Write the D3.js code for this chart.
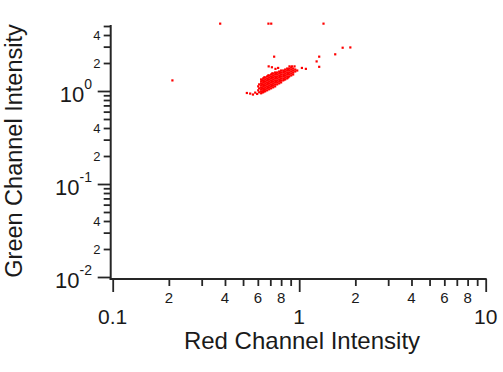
<!DOCTYPE html>
<html>
<head>
<meta charset="utf-8">
<script src="https://cdn.jsdelivr.net/npm/d3@7"></script>
<style>
  body { margin: 0; background: #fff; }
  text { font-family: "Liberation Sans", Arial, sans-serif; fill: #1a1a1a; }
</style>
</head>
<body>
<script>
// Tick values and labels
const xMajorTicks = [0.1, 1, 10];
const xMajorLabels = ['0.1', '1', '10'];
const xMinorTicks = [0.2, 0.3, 0.4, 0.5, 0.6, 0.7, 0.8, 0.9, 2, 3, 4, 5, 6, 7, 8, 9];
const xMinorLabels = ['2', '', '4', '', '6', '', '8', '', '2', '', '4', '', '6', '', '8', ''];
const yMajorTicks = [0.01, 0.1, 1];
const yMajorExponents = ['-2', '-1', '0'];
const yMinorTicks = [0.02, 0.03, 0.04, 0.05, 0.06, 0.07, 0.08, 0.09,
  0.2, 0.3, 0.4, 0.5, 0.6, 0.7, 0.8, 0.9, 2, 3, 4, 5];
const yMinorLabels = ['2', '', '4', '', '', '', '', '', '2', '', '4', '', '', '', '', '', '2', '', '4', ''];

// Red / green intensity pairs: main cluster
const clusterPoints = [
  [0.603, 1.122], [0.603, 1.017],
  [0.610, 1.178], [0.610, 1.068], [0.610, 0.969],
  [0.625, 1.332], [0.625, 1.268], [0.625, 1.208], [0.625, 1.150], [0.625, 1.095], [0.625, 1.043], [0.625, 0.993], [0.625, 0.945],
  [0.634, 1.300], [0.634, 1.178], [0.634, 1.068], [0.634, 0.969],
  [0.641, 1.365], [0.641, 1.300], [0.641, 1.238], [0.641, 1.178], [0.641, 1.122], [0.641, 1.068], [0.641, 1.017], [0.641, 0.969],
  [0.649, 1.399], [0.649, 1.268], [0.649, 1.150], [0.649, 1.043], [0.649, 0.993],
  [0.657, 1.399], [0.657, 1.332], [0.657, 1.268], [0.657, 1.208], [0.657, 1.150], [0.657, 1.095], [0.657, 1.043], [0.657, 0.993],
  [0.673, 1.434], [0.673, 1.365], [0.673, 1.300], [0.673, 1.238], [0.673, 1.178], [0.673, 1.122], [0.673, 1.068], [0.673, 1.017],
  [0.682, 1.469], [0.682, 1.332], [0.682, 1.208], [0.682, 1.095],
  [0.690, 1.469], [0.690, 1.399], [0.690, 1.332], [0.690, 1.268], [0.690, 1.208], [0.690, 1.150], [0.690, 1.095], [0.690, 1.043],
  [0.707, 1.506], [0.707, 1.434], [0.707, 1.365], [0.707, 1.300], [0.707, 1.238], [0.707, 1.178], [0.707, 1.122], [0.707, 1.068],
  [0.716, 1.543], [0.716, 1.399], [0.716, 1.268], [0.716, 1.150],
  [0.725, 1.543], [0.725, 1.469], [0.725, 1.399], [0.725, 1.332], [0.725, 1.268], [0.725, 1.208], [0.725, 1.150], [0.725, 1.095],
  [0.743, 1.582], [0.743, 1.506], [0.743, 1.434], [0.743, 1.365], [0.743, 1.300], [0.743, 1.238], [0.743, 1.178], [0.743, 1.122],
  [0.752, 1.543], [0.752, 1.399], [0.752, 1.268],
  [0.762, 1.582], [0.762, 1.506], [0.762, 1.434], [0.762, 1.365], [0.762, 1.300], [0.762, 1.238], [0.762, 1.178],
  [0.781, 1.621], [0.781, 1.543], [0.781, 1.469], [0.781, 1.399], [0.781, 1.332], [0.781, 1.268], [0.781, 1.208],
  [0.790, 1.582], [0.790, 1.434], [0.790, 1.300],
  [0.800, 1.661], [0.800, 1.582], [0.800, 1.506], [0.800, 1.434], [0.800, 1.365], [0.800, 1.300], [0.800, 1.238],
  [0.821, 1.661], [0.821, 1.582], [0.821, 1.506], [0.821, 1.434], [0.821, 1.365], [0.821, 1.300],
  [0.831, 1.621], [0.831, 1.469], [0.831, 1.332],
  [0.841, 1.702], [0.841, 1.621], [0.841, 1.543], [0.841, 1.469], [0.841, 1.399], [0.841, 1.332],
  [0.862, 1.744], [0.862, 1.661], [0.862, 1.582], [0.862, 1.506], [0.862, 1.434], [0.862, 1.365],
  [0.873, 1.702], [0.873, 1.543], [0.873, 1.399],
  [0.884, 1.744], [0.884, 1.661], [0.884, 1.582], [0.884, 1.506], [0.884, 1.434],
  [0.906, 1.788], [0.906, 1.702], [0.906, 1.621], [0.906, 1.543], [0.906, 1.469],
  [0.928, 1.744], [0.928, 1.661], [0.928, 1.582], [0.928, 1.506],
  [0.952, 1.702], [0.952, 1.621],
  [0.976, 1.661]
];

// Scattered points around and away from the cluster
const outlierPoints = [
  [0.686, 1.84], [0.714, 1.80], [0.746, 1.73], [0.771, 1.77],
  [0.887, 1.84], [0.914, 1.84], [0.944, 1.84], [1.034, 1.77], [1.086, 1.73],
  [0.524, 0.952], [0.546, 0.938], [0.565, 0.916], [0.581, 0.961], [0.595, 0.93],
  [0.377, 5.3], [0.684, 5.3], [0.708, 5.3], [1.35, 5.3],
  [0.209, 1.30], [0.734, 2.34],
  [1.24, 2.08], [1.28, 2.34], [1.28, 1.82], [1.56, 2.48], [1.71, 2.92], [1.88, 2.94]
];

const width = 503;
const height = 372;
const axisColor = '#262626';

const svg = d3.select('body')
  .append('svg')
  .attr('width', width)
  .attr('height', height);

const xScale = d3.scaleLog()
  .domain([0.1, 10])
  .range([112.7, 485.7]);

const yScale = d3.scaleLog()
  .domain([0.01, 5])
  .range([277, 26]);

const xAxisY = 279;
const yAxisX = 110.7;

// Axis lines
svg.append('line')
  .attr('x1', yAxisX - 1).attr('x2', xScale(10) + 1)
  .attr('y1', xAxisY).attr('y2', xAxisY)
  .attr('stroke', axisColor).attr('stroke-width', 2);

svg.append('line')
  .attr('x1', yAxisX).attr('x2', yAxisX)
  .attr('y1', yScale(5) - 1).attr('y2', xAxisY + 1)
  .attr('stroke', axisColor).attr('stroke-width', 2);

// X ticks
const xMajor = svg.append('g')
  .attr('transform', `translate(0,${xAxisY})`)
  .call(d3.axisBottom(xScale).tickValues(xMajorTicks).tickSize(13).tickFormat(''));
const xMinor = svg.append('g')
  .attr('transform', `translate(0,${xAxisY})`)
  .call(d3.axisBottom(xScale).tickValues(xMinorTicks).tickSize(7).tickFormat(''));

// Y ticks
const yMajor = svg.append('g')
  .attr('transform', `translate(${yAxisX},0)`)
  .call(d3.axisLeft(yScale).tickValues(yMajorTicks).tickSize(13).tickFormat(''));
const yMinor = svg.append('g')
  .attr('transform', `translate(${yAxisX},0)`)
  .call(d3.axisLeft(yScale).tickValues(yMinorTicks).tickSize(7).tickFormat(''));

[xMajor, xMinor, yMajor, yMinor].forEach(g => {
  g.select('.domain').remove();
  g.selectAll('.tick line').attr('stroke', axisColor).attr('stroke-width', 1.8);
});

// X tick labels
svg.selectAll('.x-minor-label')
  .data(xMinorTicks)
  .enter()
  .append('text')
  .attr('class', 'x-minor-label')
  .attr('x', d => xScale(d))
  .attr('y', 303)
  .attr('text-anchor', 'middle')
  .style('font-size', '15px')
  .text((d, i) => xMinorLabels[i]);

svg.selectAll('.x-major-label')
  .data(xMajorTicks)
  .enter()
  .append('text')
  .attr('class', 'x-major-label')
  .attr('x', d => xScale(d))
  .attr('y', 324)
  .attr('text-anchor', 'middle')
  .style('font-size', '21px')
  .text((d, i) => xMajorLabels[i]);

// Y tick labels
svg.selectAll('.y-minor-label')
  .data(yMinorTicks)
  .enter()
  .append('text')
  .attr('class', 'y-minor-label')
  .attr('x', 100.5)
  .attr('y', d => yScale(d) + 4.8)
  .attr('text-anchor', 'end')
  .style('font-size', '13px')
  .text((d, i) => yMinorLabels[i]);

const yMajorLabel = svg.selectAll('.y-major-label')
  .data(yMajorTicks)
  .enter()
  .append('text')
  .attr('class', 'y-major-label')
  .attr('x', 92)
  .attr('y', d => yScale(d) + 11)
  .attr('text-anchor', 'end')
  .style('font-size', '22px');

yMajorLabel.append('tspan').text('10');
yMajorLabel.append('tspan')
  .attr('dy', -13)
  .style('font-size', '14px')
  .text((d, i) => yMajorExponents[i]);

// Axis titles
svg.append('text')
  .attr('x', 302)
  .attr('y', 349)
  .attr('text-anchor', 'middle')
  .style('font-size', '24px')
  .text('Red Channel Intensity');

svg.append('text')
  .attr('transform', 'translate(21.5,151) rotate(-90)')
  .attr('text-anchor', 'middle')
  .style('font-size', '23.5px')
  .text('Green Channel Intensity');

// Points
const pointSize = 2.2;
svg.append('g')
  .selectAll('rect')
  .data(clusterPoints.concat(outlierPoints))
  .enter()
  .append('rect')
  .attr('x', d => xScale(d[0]) - pointSize / 2)
  .attr('y', d => yScale(d[1]) - pointSize / 2)
  .attr('width', pointSize)
  .attr('height', pointSize)
  .attr('fill', '#ff0000');
</script>
</body>
</html>
